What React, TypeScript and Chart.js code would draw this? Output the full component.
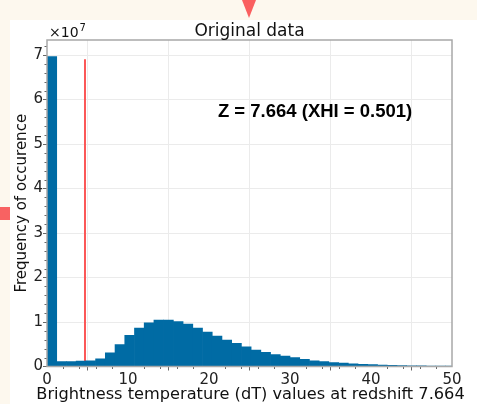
import { useEffect, useRef } from 'react';
import { Chart, registerables } from 'chart.js';

Chart.register(...registerables);

// Counts are plotted in units of 1e7 on the y axis
const countScale = 1e7;
const binWidth = 1.2;
// Histogram of dT values, one count per 1.2 K bin starting at 0 K
const binCounts = [
  69700000, 1080000, 1080000, 1200000, 1300000, 1700000, 3100000, 4900000, 7000000, 8650000,
  9800000, 10450000, 10450000, 10100000, 9550000, 8650000, 7750000, 6850000, 5950000, 5200000,
  4450000, 3700000, 3200000, 2700000, 2350000, 2000000, 1600000, 1300000, 1100000, 900000,
  750000, 620000, 500000, 420000, 340000, 270000, 210000, 170000, 130000, 100000, 80000, 60000,
];
const binCenters = binCounts.map((_, i) => (i + 0.5) * binWidth);

// Vertical marker
const markerDT = 4.69;
const markerTop = 69100000;

const xMin = 0;
const xMax = 50;
const xTickValues = [0, 10, 20, 30, 40, 50];
const xMinorStep = 2;
const yMax = 73400000;
const yTickValues = [0, 10000000, 20000000, 30000000, 40000000, 50000000, 60000000, 70000000];
const yMinorStep = 2000000;

const titleText = 'Original data';
const annotationText = 'Z = 7.664 (XHI = 0.501)';
const annotationAt = { x: 21.1, y: 56000000 };
const xTitle = 'Brightness temperature (dT) values at redshift 7.664';
const yTitle = 'Frequency of occurence';

const FONT = "'DejaVu Sans', sans-serif";

const decorations = {
  id: 'decorations',
  afterDraw(chart: any) {
    const { ctx, chartArea: a, scales } = chart;
    const xs = scales.x;
    const ys = scales.y;
    ctx.save();

    // minor tick marks
    ctx.strokeStyle = '#666';
    ctx.lineWidth = 1;
    ctx.beginPath();
    for (let v = xMin; v <= xMax + 1e-9; v += xMinorStep) {
      if (xTickValues.includes(v)) continue;
      const px = Math.round(xs.getPixelForValue(v)) + 0.5;
      ctx.moveTo(px, a.bottom);
      ctx.lineTo(px, a.bottom + 2.5);
    }
    for (let v = 0; v <= yMax; v += yMinorStep) {
      if (yTickValues.includes(v)) continue;
      const py = Math.round(ys.getPixelForValue(v)) + 0.5;
      ctx.moveTo(a.left, py);
      ctx.lineTo(a.left - 2.5, py);
    }
    ctx.stroke();

    // plot frame
    ctx.strokeStyle = '#a8a8a8';
    ctx.lineWidth = 1.5;
    ctx.strokeRect(a.left, a.top, a.right - a.left, a.bottom - a.top);

    // title
    ctx.fillStyle = '#111';
    ctx.textBaseline = 'alphabetic';
    ctx.textAlign = 'center';
    ctx.font = `17px ${FONT}`;
    ctx.fillText(titleText, (a.left + a.right) / 2, 16);

    // x axis title (wider than the plot, so drawn here without clamping)
    ctx.font = `16.2px ${FONT}`;
    ctx.fillText(xTitle, (a.left + a.right) / 2 + 1, chart.height - 5);

    // offset text for the y axis
    ctx.textAlign = 'left';
    ctx.font = `14px ${FONT}`;
    ctx.fillText('×10', a.left + 2, 17);
    const w = ctx.measureText('×10').width;
    ctx.font = `10px ${FONT}`;
    ctx.fillText('7', a.left + 2 + w + 1, 11);

    // annotation
    ctx.font = "bold 18.5px 'Liberation Sans', Arial, sans-serif";
    ctx.fillStyle = '#000';
    ctx.fillText(annotationText, xs.getPixelForValue(annotationAt.x), ys.getPixelForValue(annotationAt.y));
    ctx.restore();
  },
};

export default function App() {
  const ref = useRef<HTMLCanvasElement>(null);

  useEffect(() => {
    const canvas = ref.current;
    if (!canvas) return;
    const chart = new Chart(canvas, {
      type: 'bar',
      data: {
        datasets: [
          {
            type: 'bar',
            data: binCenters.map((x, i) => ({ x, y: binCounts[i] })),
            backgroundColor: '#006ba4',
            borderWidth: 0,
            barPercentage: 1,
            categoryPercentage: 1,
            order: 0,
          } as any,
          {
            type: 'line',
            data: [
              { x: markerDT, y: 0 },
              { x: markerDT, y: markerTop },
            ],
            borderColor: '#fb5757',
            borderWidth: 2,
            pointRadius: 0,
            order: 1,
          } as any,
        ],
      },
      options: {
        responsive: false,
        animation: false,
        devicePixelRatio: 1,
        layout: { padding: { top: 20, right: 25, left: 0, bottom: 0 } },
        plugins: {
          legend: { display: false },
          tooltip: { enabled: false },
          title: { display: false },
        },
        scales: {
          x: {
            type: 'linear',
            min: xMin,
            max: xMax,
            offset: false,
            afterFit: (s: any) => {
              s.height = 37.5;
            },
            afterBuildTicks: (s: any) => {
              s.ticks = xTickValues.map((value) => ({ value }));
            },
            ticks: {
              padding: 1,
              color: '#222',
              font: { family: FONT, size: 15 },
              maxRotation: 0,
              autoSkip: false,
            },
            grid: { color: '#ebebeb', lineWidth: 1, tickLength: 4, tickColor: '#666' },
            border: { display: false },
            title: { display: false },
          },
          y: {
            type: 'linear',
            min: 0,
            max: yMax,
            afterFit: (s: any) => {
              s.width = 37;
            },
            afterBuildTicks: (s: any) => {
              s.ticks = yTickValues.map((value) => ({ value }));
            },
            ticks: {
              padding: 0,
              color: '#222',
              font: { family: FONT, size: 15 },
              autoSkip: false,
              callback: (v: any) => String(Math.round(Number(v) / countScale)),
            },
            grid: { color: '#ebebeb', lineWidth: 1, tickLength: 4, tickColor: '#666' },
            border: { display: false },
            title: {
              display: true,
              text: yTitle,
              color: '#111',
              font: { family: FONT, size: 15 },
              padding: { top: 3, bottom: 0 },
            },
          },
        },
      } as any,
      plugins: [decorations],
    });
    return () => chart.destroy();
  }, []);

  return (
    <div
      style={{
        position: 'fixed',
        left: 0,
        top: 0,
        width: 477,
        height: 404,
        background: '#fdf8ee',
        overflow: 'hidden',
      }}
    >
      <div
        style={{
          position: 'absolute',
          left: 242,
          top: 0,
          width: 0,
          height: 0,
          borderLeft: '7.5px solid transparent',
          borderRight: '7.5px solid transparent',
          borderTop: '18px solid #fa5f5f',
        }}
      />
      <div
        style={{
          position: 'absolute',
          left: 0,
          top: 207,
          width: 10,
          height: 13,
          background: '#f86262',
        }}
      />
      <div
        style={{
          position: 'absolute',
          left: 10,
          top: 20,
          width: 467,
          height: 384,
          background: '#ffffff',
        }}
      >
        <canvas
          ref={ref}
          width={467}
          height={384}
          style={{ display: 'block', width: 467, height: 384 }}
        />
      </div>
    </div>
  );
}
